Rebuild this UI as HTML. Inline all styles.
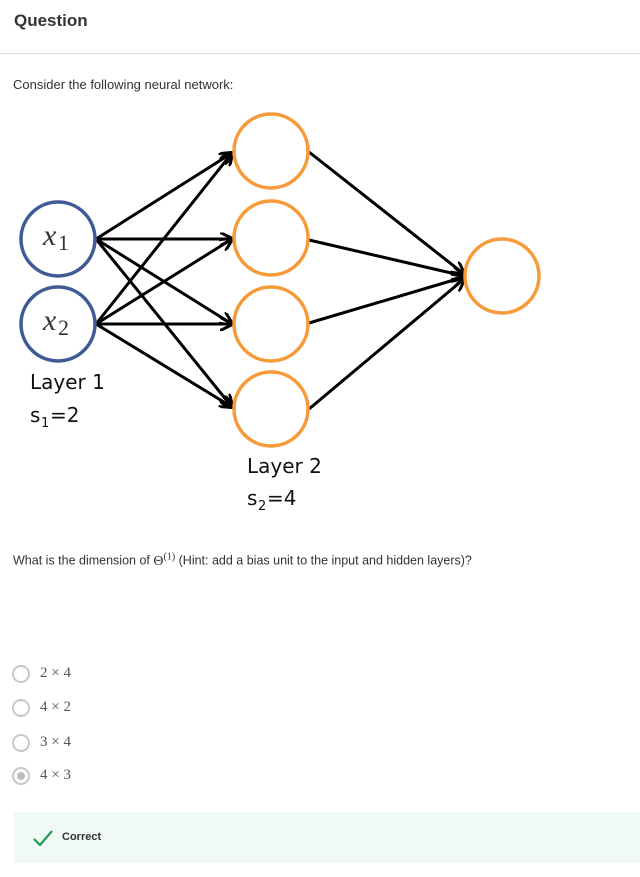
<!DOCTYPE html>
<html><head><meta charset="utf-8"><style>
body{margin:0;width:640px;height:877px;background:#fff;font-family:"Liberation Sans",sans-serif;position:relative;overflow:hidden}
.abs{position:absolute}
.math{font-family:"Liberation Serif",serif;color:#555;font-size:15px}
.radio{position:absolute;left:12px;width:18px;height:18px;border:2px solid #c8c8c8;border-radius:50%;box-sizing:border-box}
</style></head><body>
<div class="abs" style="left:14px;top:11px;font-size:17px;font-weight:bold;color:#333">Question</div>
<div class="abs" style="left:0;top:53px;width:640px;height:1px;background:#ddd"></div>
<div class="abs" style="left:13px;top:77px;font-size:13px;color:#333">Consider the following neural network:</div>
<svg class="abs" style="left:0;top:0" width="640" height="530">
<defs><marker id="ah" viewBox="0 0 10 10" refX="9" refY="5" markerWidth="4.5" markerHeight="4.5" orient="auto"><path d="M0,0 L10,5 L0,10" fill="none" stroke="#000" stroke-width="2.2"/></marker></defs>
<g stroke="#000" stroke-width="3" marker-end="url(#ah)">
<line x1="96" y1="239" x2="232" y2="153"/><line x1="96" y1="239" x2="232" y2="239"/><line x1="96" y1="239" x2="232" y2="324"/><line x1="96" y1="239" x2="232" y2="407"/>
<line x1="96" y1="324" x2="232" y2="153"/><line x1="96" y1="324" x2="232" y2="239"/><line x1="96" y1="324" x2="232" y2="324"/><line x1="96" y1="324" x2="232" y2="407"/>
<line x1="309" y1="152" x2="464" y2="274"/><line x1="309" y1="240" x2="464" y2="276"/><line x1="309" y1="323" x2="464" y2="277"/><line x1="309" y1="409" x2="464" y2="279"/>
</g>
<g fill="#fff" stroke="#3f5a95" stroke-width="3.5"><circle cx="58" cy="239" r="37"/><circle cx="58" cy="324" r="37"/></g>
<g fill="#fff" stroke="#f79a3a" stroke-width="3.5"><circle cx="271" cy="151" r="37"/><circle cx="271" cy="238" r="37"/><circle cx="271" cy="324" r="37"/><circle cx="271" cy="409" r="37"/><circle cx="502" cy="276" r="37"/></g>
<g font-family="Liberation Serif,serif" font-style="italic" font-size="30" fill="#333"><text x="43" y="245">x</text><text x="43" y="330">x</text></g>
<g font-family="Liberation Serif,serif" font-size="22" fill="#333"><text x="58" y="250">1</text><text x="58" y="335">2</text></g>
<g font-family="DejaVu Sans,sans-serif" font-size="20" fill="#111"><text x="30" y="389">Layer 1</text><text x="30" y="422">s</text><text x="50" y="422">=2</text><text x="247" y="473">Layer 2</text><text x="247" y="505">s</text><text x="267" y="505">=4</text></g>
<g font-family="DejaVu Sans,sans-serif" font-size="13" fill="#111"><text x="41" y="427">1</text><text x="258" y="510">2</text></g>
</svg>
<div class="abs" style="left:13px;top:551px;font-size:12.5px;color:#333">What is the dimension of <span style="font-family:'Liberation Serif',serif;font-size:14px">Θ<sup style="font-size:10px">(1)</sup></span> (Hint: add a bias unit to the input and hidden layers)?</div>
<div class="radio" style="top:665px"></div><div class="abs math" style="left:40px;top:665px">2 × 4</div>
<div class="radio" style="top:699px"></div><div class="abs math" style="left:40px;top:699px">4 × 2</div>
<div class="radio" style="top:734px"></div><div class="abs math" style="left:40px;top:734px">3 × 4</div>
<div class="radio" style="top:767px"><div style="position:absolute;left:3px;top:3px;width:8px;height:8px;border-radius:50%;background:#bbb"></div></div><div class="abs math" style="left:40px;top:767px">4 × 3</div>
<div class="abs" style="left:14px;top:812px;width:626px;height:51px;background:#f1f9f6">
<svg class="abs" style="left:19px;top:18px" width="20" height="16"><path d="M1,9 L7,15 L19,1" fill="none" stroke="#1f9d55" stroke-width="2.2"/></svg>
<div class="abs" style="left:48px;top:19px;font-size:11px;font-weight:bold;color:#333">Correct</div></div>
</body></html>
